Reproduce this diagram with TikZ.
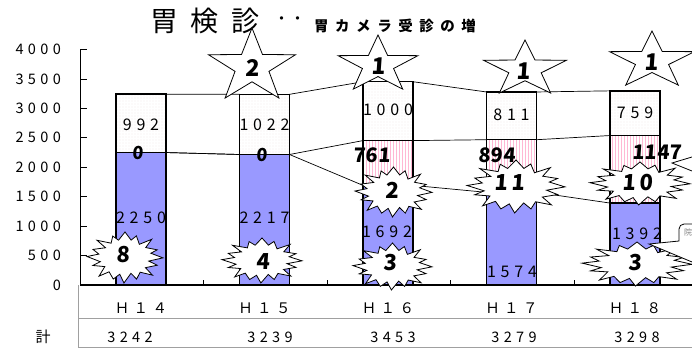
\documentclass[tikz,border=0pt]{standalone}
\usepackage{fontspec}
\setmainfont{Noto Sans CJK JP}
\newfontfamily\spc{Noto Sans CJK JP}[LetterSpace=30]
\newfontfamily\spcw{Noto Sans CJK JP}[LetterSpace=45]
\newfontfamily\numf{Noto Sans CJK JP}[FakeSlant=0.07]
\usetikzlibrary{patterns.meta}
\definecolor{bluebar}{HTML}{9999FF}
\definecolor{stripec}{HTML}{FFB8D4}
\definecolor{dotc}{HTML}{DCC4CA}
\definecolor{tablegray}{HTML}{A0A0A0}
\tikzset{
  axlab/.style={font=\spc\fontsize{14.5}{14.5}\selectfont, anchor=east, inner sep=0pt},
  barlab/.style={font=\spc\fontsize{16}{16}\selectfont, inner sep=0pt},
  catlab/.style={font=\spc\fontsize{14.5}{14.5}\selectfont, inner sep=0pt},
  boldnum/.style={font=\numf\bfseries\fontsize{#1}{#1}\selectfont, inner sep=0pt},
  barbox/.style={draw=black, line width=1.3pt},
  segblue/.style={barbox, fill=bluebar},
  segstripe/.style={barbox, pattern={Lines[angle=90,distance=3pt,line width=0.8pt]}, pattern color=stripec},
  segdot/.style={barbox, pattern={Dots[radius=0.45pt,distance=3pt]}, pattern color=dotc},
  serline/.style={line width=0.7pt},
  axisline/.style={line width=0.7pt},
  shapeline/.style={draw=black, line width=0.8pt, fill=white, line join=miter},
  tableline/.style={draw=tablegray, line width=1pt},
}
\newcommand\starshape[5]{%
  \coordinate (#1) at (#2,#3);
  \draw[shapeline] (#1) +(270:{#4} and {#5})
    \foreach \k [evaluate=\k as \ang using 270+36*\k,
                 evaluate=\k as \ex using {ifthenelse(mod(\k,2)==0,1,0.39)*#4},
                 evaluate=\k as \ey using {ifthenelse(mod(\k,2)==0,1,0.39)*#5}] in {1,...,9}
    { -- +(\ang:{\ex} and {\ey}) } -- cycle;
}
\newcommand\burstshape[5]{%
  \coordinate (#1) at (#2,#3);
  \draw[shapeline] (#1) +(270:{#4} and {#5})
    \foreach \k [evaluate=\k as \ang using {270+11.25*\k+3*sin(\k*137)},
                 evaluate=\k as \fr using {ifthenelse(mod(\k,2)==0,1-0.05*mod(\k*3,4),0.64+0.03*mod(\k*5,3))},
                 evaluate=\fr as \ex using \fr*#4,
                 evaluate=\fr as \ey using \fr*#5] in {1,...,31}
    { -- +(\ang:{\ex} and {\ey}) } -- cycle;
}
\begin{document}
\begin{tikzpicture}[x=1pt,y=-1pt]
\fill[white] (0,0) rectangle (692,350);
\useasboundingbox (0,0) rectangle (692,350);

% title
\node[font=\spcw\fontsize{28}{28}\selectfont, anchor=west, inner sep=0pt] (title) at (150,20.5) {胃検診};
\node[font=\fontsize{16}{16}\selectfont, inner sep=0pt] (dots) at (289.5,21) {・・};
\node[font=\spcw\bfseries\fontsize{14.5}{14.5}\selectfont, anchor=west, inner sep=0pt] (subtitle) at (314,26) {胃カメラ受診の増};

% y axis
\draw[axisline] (80,49.5) -- (80,285);
\foreach \v [count=\n from 0] in {0,500,...,4000}{
  \pgfmathsetmacro\yy{285-0.058875*\v}
  \draw[axisline] (80,\yy) -- (87,\yy);
  \node[axlab] (yl\n) at (61,\yy) {\v};
}

% bars
\foreach \i/\a/\b/\c in {0/2250/0/992,1/2217/0/1022,2/1692/761/1000,3/1574/894/811,4/1392/1147/759}{
  \pgfmathsetmacro\xl{116+123.5*\i}
  \pgfmathsetmacro\xr{\xl+50}
  \pgfmathsetmacro\ya{285-0.058875*\a}
  \pgfmathsetmacro\yb{285-0.058875*(\a+\b)}
  \pgfmathsetmacro\yc{285-0.058875*(\a+\b+\c)}
  \coordinate (L\i a) at (\xl,\ya); \coordinate (R\i a) at (\xr,\ya);
  \coordinate (L\i b) at (\xl,\yb); \coordinate (R\i b) at (\xr,\yb);
  \coordinate (L\i c) at (\xl,\yc); \coordinate (R\i c) at (\xr,\yc);
  \draw[segdot] (\xl,\yc) rectangle (\xr,\yb);
  \draw[segstripe] (\xl,\yb) rectangle (\xr,\ya);
  \draw[segblue] (\xl,\ya) rectangle (\xr,285);
}
% series lines
\foreach \i [count=\j] in {0,...,3}{
  \draw[serline] (R\i a) -- (L\j a);
  \draw[serline] (R\i b) -- (L\j b);
  \draw[serline] (R\i c) -- (L\j c);
}

% x axis and table
\draw[line width=1.2pt] (80,285) -- (692,285);
\foreach \x [count=\n] in {203.5,327,450.5,574}{\draw[axisline] (\x,285) -- (\x,280);}
\draw[tableline] (78,318) -- (692,318);
\draw[tableline] (78,347) -- (692,347);
\draw[tableline] (78,285) -- (78,347);

% category labels and totals
\node[catlab] (c14) at (141,308) {Ｈ１４};
\node[catlab] (c15) at (264.5,308) {Ｈ１５};
\node[catlab] (c16) at (388,308) {Ｈ１６};
\node[catlab] (c17) at (511.5,308) {Ｈ１７};
\node[catlab] (c18) at (635,308) {Ｈ１８};
\node[font=\fontsize{15}{15}\selectfont, inner sep=0pt] (kei) at (43,337) {計};
\node[catlab] (t14) at (130,337) {3242};
\node[catlab] (t15) at (270,337) {3239};
\node[catlab] (t16) at (393,337) {3453};
\node[catlab] (t17) at (514,337) {3279};
\node[catlab] (t18) at (637,337) {3298};

% bar value labels
\node[barlab] (v992) at (141,125) {992};
\node[barlab] (v1022) at (264.5,125) {1022};
\node[barlab] (v1000) at (388,110) {1000};
\node[barlab] (v811) at (511.5,115) {811};
\node[barlab] (v759) at (635,113) {759};
\node[barlab] (v2250) at (141,218) {2250};
\node[barlab] (v2217) at (264.5,218) {2217};
\node[barlab] (v1692) at (387,232) {1692};
\node[barlab] (v1574) at (512,272) {1574};
\node[barlab] (v1392) at (637,234) {1392};
\node[boldnum=18] (z14) at (138,153) {0};
\node[boldnum=18] (z15) at (262,155) {0};
\node[boldnum=20] (v761) at (372,155) {761};
\node[boldnum=20] (v894) at (497,155) {894};
\node[boldnum=20] (v1147) at (657,152) {1147};

% stars
\starshape{s15}{252}{66.7}{45.7}{38.7}
\starshape{s16}{378}{64.9}{42}{29.9}
\starshape{s17}{525}{69.3}{43.6}{29.3}
\starshape{s18}{652}{60.9}{44.7}{29.9}
\node[boldnum=23] (ns15) at (252,68) {2};
\node[boldnum=23] (ns16) at (378,66) {1};
\node[boldnum=23] (ns17) at (523,71) {1};
\node[boldnum=23] (ns18) at (651,62) {1};

% bursts
\burstshape{b14}{125}{257.5}{38}{25.5}
\burstshape{b15}{262}{260.5}{40}{22.5}
\burstshape{b16a}{393.5}{192}{38.5}{25}
\burstshape{b16b}{392.5}{266.5}{39.5}{23.5}
\burstshape{b17}{516}{186.5}{49}{26.5}
\burstshape{b18a}{640}{183.5}{50}{21.5}
\burstshape{b18b}{637}{264}{55}{22}
\node[boldnum=22] (nb14) at (123,255) {8};
\node[boldnum=22] (nb15) at (263,262) {4};
\node[boldnum=22] (nb16a) at (392,190) {2};
\node[boldnum=22] (nb16b) at (390,263) {3};
\node[boldnum=22] (nb17) at (510,183) {1\,1};
\node[boldnum=22] (nb18a) at (638,183) {1\,0};
\node[boldnum=22] (nb18b) at (635,263) {3};

% callouts on the right
\coordinate (tipA) at (672,163);
\draw[shapeline] (692,157) -- (tipA) -- (692,171);
\coordinate (tipB) at (649,244);
\draw[shapeline] (692,224) -- (684,224) to[out=180,in=90] (679,229) -- (679,241) -- (tipB) -- (692,262);
\node[font=\fontsize{8}{8}\selectfont, text=gray, inner sep=0pt, anchor=west] (cal) at (684,232) {院};
\end{tikzpicture}
\end{document}
